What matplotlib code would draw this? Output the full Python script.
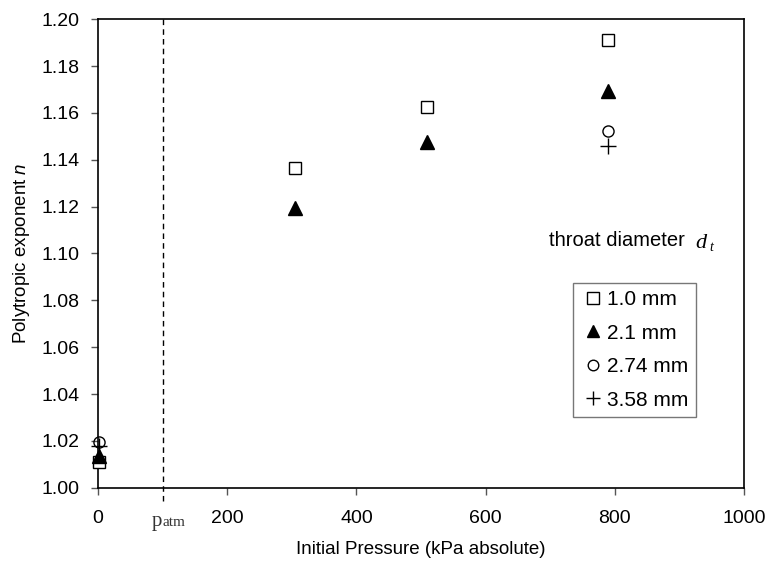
import matplotlib
matplotlib.use("Agg")
import matplotlib.pyplot as plt

plt.rcParams['font.family'] = ['Liberation Sans', 'DejaVu Sans']
plt.rcParams['mathtext.fontset'] = 'custom'
plt.rcParams['mathtext.it'] = 'Liberation Sans:italic'

# initial pressure (kPa absolute) and polytropic exponent for each throat diameter
p_10 = [2, 305, 510, 790]
n_10 = [1.011, 1.1365, 1.1625, 1.191]
p_21 = [2, 305, 510, 790]
n_21 = [1.0135, 1.1195, 1.1475, 1.1695]
p_274 = [2, 790]
n_274 = [1.0195, 1.1525]
p_358 = [2, 790]
n_358 = [1.0178, 1.146]

p_atm = 101.3

x_ticks = [0, 200, 400, 600, 800, 1000]
y_ticks = [1.00, 1.02, 1.04, 1.06, 1.08, 1.10, 1.12, 1.14, 1.16, 1.18, 1.20]


def main():
    fig = plt.figure(figsize=(7.69, 5.69), dpi=100)
    ax = fig.add_axes([0.1274, 0.1429, 0.8401, 0.8232])

    ax.plot(p_10, n_10, 's', mfc='white', mec='black', mew=1.0, ms=8.5,
            ls='none', label='1.0 mm', clip_on=False, zorder=3)
    ax.plot(p_21, n_21, '^', color='black', ms=9.5,
            ls='none', label='2.1 mm', clip_on=False, zorder=3)
    ax.plot(p_274, n_274, 'o', mfc='none', mec='black', mew=1.0, ms=8,
            ls='none', label='2.74 mm', clip_on=False, zorder=4)
    ax.plot(p_358, n_358, '+', color='black', mew=1.0, ms=11,
            ls='none', label='3.58 mm', clip_on=False, zorder=4)

    # atmospheric pressure marker
    ax.plot([p_atm, p_atm], [0.9945, 1.2], color='black', lw=1.0,
            dashes=(4, 3), clip_on=False, zorder=2)
    ax.text(p_atm - 2, 0.9835, 'p', family='Liberation Serif', fontsize=15,
            ha='right', va='baseline', color='#333333')
    ax.text(p_atm - 2, 0.9835, 'atm', family='Liberation Serif', fontsize=11,
            ha='left', va='baseline', color='#333333')

    ax.set_xlim(0, 1000)
    ax.set_ylim(1.0, 1.2)
    ax.set_xticks(x_ticks)
    ax.set_xticklabels([str(v) for v in x_ticks])
    ax.set_yticks(y_ticks)
    ax.set_yticklabels(['%.2f' % v for v in y_ticks])
    ax.tick_params(direction='out', length=5, width=1, labelsize=14,
                   color='#555555')
    ax.tick_params(axis='x', pad=11)
    ax.tick_params(axis='y', pad=8)
    for s in ax.spines.values():
        s.set_linewidth(1.2)

    ax.set_xlabel('Initial Pressure (kPa absolute)', fontsize=13.5, labelpad=10)
    ax.set_ylabel('Polytropic exponent $n$', fontsize=13.5, labelpad=7)

    ax.text(0.698, 0.527, 'throat diameter', transform=ax.transAxes,
            fontsize=14.5, ha='left', va='center')
    ax.text(0.925, 0.522, 'd', transform=ax.transAxes, family='Liberation Serif',
            style='italic', fontsize=16, ha='left', va='center')
    ax.text(0.946, 0.512, 't', transform=ax.transAxes, family='Liberation Serif',
            style='italic', fontsize=10, ha='left', va='center')

    leg = ax.legend(loc='upper left', bbox_to_anchor=(0.735, 0.4377),
                    fontsize=15, frameon=True, fancybox=False,
                    edgecolor='#555555', handlelength=1.2, handletextpad=0.1,
                    borderpad=0.35, labelspacing=0.7, markerscale=0.95,
                    borderaxespad=0)
    leg.get_frame().set_linewidth(1.0)

    fig.savefig('out.png', dpi=100)


if __name__ == '__main__':
    main()
